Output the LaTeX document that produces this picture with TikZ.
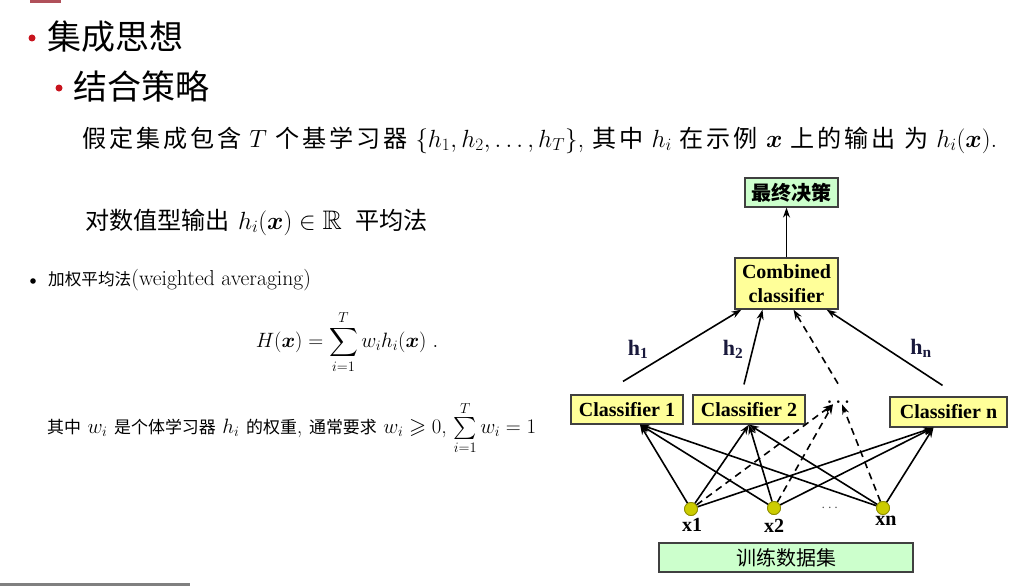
\documentclass[tikz,border=0pt]{standalone}
\usepackage{amsmath,amssymb,bm}
\usepackage{fontspec}
\newfontfamily\cjk{Noto Sans CJK SC}
\newfontfamily\cjkm[Scale=0.9]{Noto Sans CJK SC}
\newfontfamily\cjkw[Scale=0.9,LetterSpace=12]{Noto Sans CJK SC}
\newfontfamily\cjks[Scale=0.77]{Noto Sans CJK SC}
\newfontfamily\tnr{Liberation Serif}
\usetikzlibrary{arrows.meta,positioning,calc}
\definecolor{bulletred}{RGB}{200,20,30}
\definecolor{barred}{RGB}{176,80,90}
\definecolor{boxgreen}{RGB}{204,255,204}
\definecolor{boxyellow}{RGB}{255,255,153}
\definecolor{dotolive}{RGB}{204,204,0}
\definecolor{dotedge}{RGB}{140,140,0}
\definecolor{hblue}{RGB}{25,25,60}
\begin{document}
\begin{tikzpicture}[x=1pt,y=-1pt]
	\tikzset{
		every node/.style={inner sep=0pt},
		% kasten
		box/.style={draw=black!75,line width=1.2pt,font=\tnr\bfseries\fontsize{20}{23}\selectfont},
		greenbox/.style={box,fill=boxgreen},
		yellowbox/.style={box,fill=boxyellow},
		% eingaben
		xdot/.style={circle,fill=dotolive,draw=dotedge,line width=0.8pt,minimum size=13pt},
		xlab/.style={font=\tnr\bfseries\fontsize{20}{23}\selectfont},
		hlab/.style={font=\tnr\bfseries\fontsize{22}{25}\selectfont,text=hblue},
		% pfeile
		arr/.style={-{Stealth[length=10pt,width=7pt]},line width=1.6pt},
		darr/.style={arr,dash pattern=on 7pt off 5pt},
	}
	\useasboundingbox (0,0) rectangle (1035,586);
	% ränder
	\fill[barred] (30,0) rectangle (61,3);
	\fill[black!50] (0,583) rectangle (190,586);
	%
	\fill[bulletred] (32,38) circle (3.5);
	\node[anchor=west,font=\cjk\fontsize{34}{40}\selectfont] (title) at (47,37) {集成思想};
	\fill[bulletred] (59,88) circle (3.5);
	\node[anchor=west,font=\cjk\fontsize{34}{40}\selectfont] (sub) at (73,87) {结合策略};
	%
	\node[anchor=west,font=\fontsize{26.8}{31}\selectfont] (line1) at (82,140)
		{{\cjkw 假定集成包含} $T$ {\cjkw 个基学习器} $\{h_1,h_2,\ldots,h_T\}$, {\cjkw 其中} $h_i$ {\cjkw 在示例} $\bm{x}$ {\cjkw 上的输出 为} $h_i(\bm{x})$.};
	\node[anchor=west,font=\fontsize{26.8}{31}\selectfont] (line2) at (85,222)
		{{\cjkm 对数值型输出} $h_i(\bm{x})\in\mathbb{R}$\enspace{\cjkm 平均法}};
	\fill (33,281) circle (2.8);
	\node[anchor=west,font=\fontsize{21.6}{25}\selectfont] (wavg) at (48,280)
		{{\cjks 加权平均法}(weighted averaging)};
	\node[font=\fontsize{20}{23}\selectfont] (formula) at (347,342)
		{$\displaystyle H(\bm{x})=\sum_{i=1}^{T} w_ih_i(\bm{x})\ .$};
	\node[anchor=west,font=\fontsize{22}{25}\selectfont] (where) at (47,428)
		{{\cjks 其中} $w_i$ {\cjks 是个体学习器} $h_i$ {\cjks 的权重}, {\cjks 通常要求} $w_i\geqslant 0$, $\sum\limits_{i=1}^{T} w_i=1$};
	%
	% diagramm
	\node[greenbox,minimum width=93pt,minimum height=29pt,font=\cjk\bfseries\fontsize{20}{23}\selectfont] (final) at (791.5,192.5) {最终决策};
	\node[yellowbox,minimum width=103pt,minimum height=51pt,align=center] (comb) at (786.5,283.5) {Combined\\[1pt]classifier};
	\node[yellowbox,minimum width=112pt,minimum height=29pt] (c1) at (627,409.5) {Classifier 1};
	\node[yellowbox,minimum width=112pt,minimum height=29pt] (c2) at (749,409.5) {Classifier 2};
	\node[font=\fontsize{19}{22}\selectfont] (cdots) at (840,402) {$\bm{\cdots}$};
	\node[yellowbox,minimum width=117pt,minimum height=30pt] (cn) at (948.5,412) {Classifier n};
	\node[greenbox,minimum width=254pt,minimum height=29pt,font=\cjk\fontsize{20}{24}\selectfont] (train) at (786,557.5) {训练数据集};
	%
	\node[xdot] (x1) at (691,509) {};
	\node[xdot] (x2) at (774,508) {};
	\node[xdot] (xn) at (883,508) {};
	\node[xlab] at (692,525) {x1};
	\node[xlab] at (774,526) {x2};
	\node[xlab] at (886,521) {xn};
	\node[font=\fontsize{15}{18}\selectfont,text=black!70] (xdots) at (831,508) {$\cdots$};
	%
	% oben
	\draw[arr] (comb.north) -- (comb.north |- final.south);
	\draw[arr] ([shift={(-4,-13)}]c1.north) -- ([xshift=7]comb.south west);
	\draw[arr] ([shift={(-5,-10)}]c2.north) -- ([xshift=-24]comb.south);
	\draw[darr] ([shift={(-2,-14)}]cdots.north) -- ([xshift=7]comb.south);
	\draw[arr] ([shift={(-6,-11)}]cn.north) -- ([xshift=-12]comb.south east);
	\node[hlab] at (638,349) {h\textsubscript{1}};
	\node[hlab] at (733,349) {h\textsubscript{2}};
	\node[hlab] at (921,348) {h\textsubscript{n}};
	%
	% unten
	\coordinate (in1) at ([xshift=13]c1.south);
	\coordinate (in2) at (c2.south);
	\coordinate (ind) at ([shift={(-7,-2)}]cdots.south);
	\coordinate (indn) at ([shift={(2,-2)}]cdots.south);
	\coordinate (inn) at ([xshift=-15]cn.south);
	\foreach \x in {x1,x2,xn}{
		\draw[arr] (\x) -- (in1);
		\draw[arr] (\x) -- (in2);
		\draw[arr] (\x) -- (inn);
	}
	\draw[darr] (x1) -- (ind);
	\draw[darr] (x2) -- (ind);
	\draw[darr] (xn) -- (indn);
	% punkte wieder nach vorn
	\foreach \x in {x1,x2,xn}{\node[xdot] at (\x) {};}
\end{tikzpicture}
\end{document}
